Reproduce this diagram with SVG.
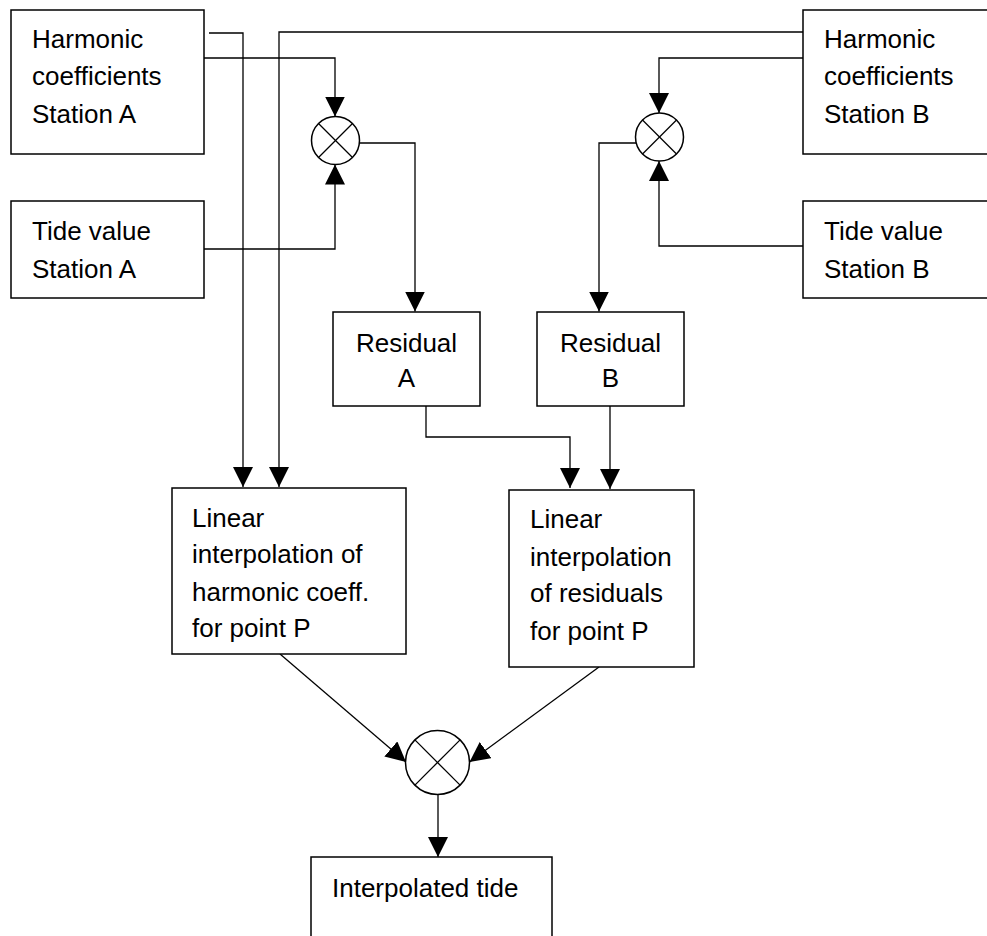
<svg xmlns="http://www.w3.org/2000/svg" width="987" height="936" viewBox="0 0 987 936">
<style>
.box{fill:#fff;stroke:#000;stroke-width:1.5}
.t{font-family:"Liberation Sans",Arial,sans-serif;font-size:26px;fill:#000}
.c{text-anchor:middle}
.ln{fill:none;stroke:#000;stroke-width:1.3}
.op{fill:#fff;stroke:#000;stroke-width:1.5}
.x{stroke:#000;stroke-width:1.3}
</style>
<defs>
<marker id="ah" markerUnits="userSpaceOnUse" markerWidth="20" markerHeight="20" refX="20" refY="10" orient="auto" viewBox="0 0 20 20">
<path d="M0,0 L20,10 L0,20 z" fill="#000"/>
</marker>
</defs>
<rect width="987" height="936" fill="#fff"/>
<g id="connectors">
<path class="ln" d="M209,33 H243 V487" marker-end="url(#ah)"/>
<path class="ln" d="M204,58 H335 V116.5" marker-end="url(#ah)"/>
<path class="ln" d="M204,249 H335 V164.5" marker-end="url(#ah)"/>
<path class="ln" d="M360,143 H415 V311.5" marker-end="url(#ah)"/>
<path class="ln" d="M803,32 H279 V487" marker-end="url(#ah)"/>
<path class="ln" d="M803,58 H659 V113" marker-end="url(#ah)"/>
<path class="ln" d="M806,246 H659 V161" marker-end="url(#ah)"/>
<path class="ln" d="M636,143 H599 V311.5" marker-end="url(#ah)"/>
<path class="ln" d="M426,406 V437 H570 V488" marker-end="url(#ah)"/>
<path class="ln" d="M610,406 V489" marker-end="url(#ah)"/>
<path class="ln" d="M280,654 L406,762" marker-end="url(#ah)"/>
<path class="ln" d="M599,667 L469.5,762" marker-end="url(#ah)"/>
<path class="ln" d="M438,795 V857" marker-end="url(#ah)"/>
</g>
<g id="harmA">
<rect class="box" x="11" y="10" width="193" height="144"/>
<text class="t" x="32" y="48">Harmonic</text>
<text class="t" x="32" y="85">coefficients</text>
<text class="t" x="32" y="123">Station A</text>
</g>
<g id="tideA">
<rect class="box" x="11" y="201" width="193" height="97"/>
<text class="t" x="32" y="240">Tide value</text>
<text class="t" x="32" y="278">Station A</text>
</g>
<g id="harmB">
<rect class="box" x="803" y="10" width="200" height="144"/>
<text class="t" x="824" y="48">Harmonic</text>
<text class="t" x="824" y="85">coefficients</text>
<text class="t" x="824" y="123">Station B</text>
</g>
<g id="tideB">
<rect class="box" x="803" y="201" width="200" height="97"/>
<text class="t" x="824" y="240">Tide value</text>
<text class="t" x="824" y="278">Station B</text>
</g>
<g id="mulA">
<circle class="op" cx="335.5" cy="140.5" r="24"/>
<line class="x" x1="318.5" y1="123.5" x2="352.5" y2="157.5"/>
<line class="x" x1="352.5" y1="123.5" x2="318.5" y2="157.5"/>
</g>
<g id="mulB">
<circle class="op" cx="659.5" cy="137" r="24"/>
<line class="x" x1="642.5" y1="120" x2="676.5" y2="154"/>
<line class="x" x1="676.5" y1="120" x2="642.5" y2="154"/>
</g>
<g id="resA">
<rect class="box" x="333" y="312" width="147" height="94"/>
<text class="t c" x="406.5" y="352">Residual</text>
<text class="t c" x="406.5" y="387">A</text>
</g>
<g id="resB">
<rect class="box" x="537" y="312" width="147" height="94"/>
<text class="t c" x="610.5" y="352">Residual</text>
<text class="t c" x="610.5" y="387">B</text>
</g>
<g id="linH">
<rect class="box" x="172" y="488" width="234" height="166"/>
<text class="t" x="192" y="527">Linear</text>
<text class="t" x="192" y="563">interpolation of</text>
<text class="t" x="192" y="601">harmonic coeff.</text>
<text class="t" x="192" y="637">for point P</text>
</g>
<g id="linR">
<rect class="box" x="509" y="490" width="185" height="177"/>
<text class="t" x="530" y="528">Linear</text>
<text class="t" x="530" y="566">interpolation</text>
<text class="t" x="530" y="602">of residuals</text>
<text class="t" x="530" y="640">for point P</text>
</g>
<g id="mulC">
<circle class="op" cx="437.5" cy="762.5" r="32"/>
<line class="x" x1="414.9" y1="739.9" x2="460.1" y2="785.1"/>
<line class="x" x1="460.1" y1="739.9" x2="414.9" y2="785.1"/>
</g>
<g id="out">
<rect class="box" x="311" y="857" width="241" height="90"/>
<text class="t" x="332" y="897">Interpolated tide</text>
</g>
</svg>
